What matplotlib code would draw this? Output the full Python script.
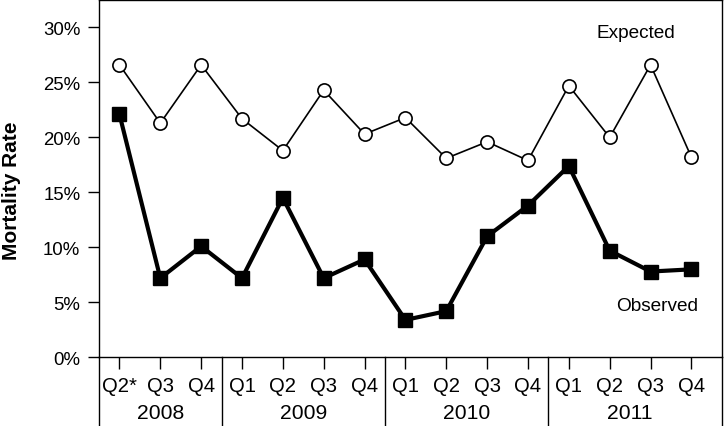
import matplotlib
matplotlib.use("Agg")
import matplotlib.pyplot as plt
from matplotlib.ticker import FuncFormatter
import matplotlib.transforms as mtransforms

plt.rcParams['font.family'] = ['Liberation Sans', 'DejaVu Sans']

quarters = ["Q2*", "Q3", "Q4", "Q1", "Q2", "Q3", "Q4", "Q1", "Q2", "Q3", "Q4", "Q1", "Q2", "Q3", "Q4"]
years = ["2008", "2009", "2010", "2011"]
year_counts = [3, 4, 4, 4]
expected = [26.6, 21.3, 26.6, 21.7, 18.8, 24.3, 20.3, 21.8, 18.1, 19.6, 17.9, 24.7, 20.0, 26.6, 18.2]
observed = [22.1, 7.2, 10.1, 7.2, 14.5, 7.2, 8.9, 3.4, 4.2, 11.0, 13.8, 17.4, 9.7, 7.8, 8.0]
y_ticks = [0, 5, 10, 15, 20, 25, 30]

fig = plt.figure(figsize=(7.25, 4.27), dpi=100)
ax = fig.add_axes([0.1366, 0.1609, 0.8593, 0.8368])

x = list(range(len(quarters)))
ax.plot(x, expected, color='black', lw=1.2, marker='o', markersize=9.5,
        markerfacecolor='white', markeredgecolor='black', markeredgewidth=1.2, zorder=3)
ax.plot(x, observed, color='black', lw=3, marker='s', markersize=10,
        markerfacecolor='black', markeredgecolor='black', zorder=4)

ax.set_xlim(-0.5, 14.75)
ax.set_ylim(0, 32.5)
ax.set_yticks(y_ticks)
ax.yaxis.set_major_formatter(FuncFormatter(lambda v, p: f"{int(v)}%"))
ax.tick_params(axis='y', direction='out', length=8, width=1, labelsize=13.4, pad=5.5)
ax.set_xticks(x)
ax.set_xticklabels(quarters)
ax.tick_params(axis='x', direction='out', length=8.5, width=1, labelsize=14.6, pad=5)
for s in ax.spines.values():
    s.set_linewidth(1)

ax.set_ylabel("Mortality Rate", fontsize=15, fontweight='bold')
ax.yaxis.set_label_coords(-0.125, 0.47)

# year separators and labels
trans = mtransforms.blended_transform_factory(ax.transData, ax.transAxes)
bounds = [-0.5]
pos = 0
for c in year_counts:
    pos += c
    bounds.append(pos - 0.5)
bounds[-1] = 14.75
for b in bounds:
    ax.plot([b, b], [0, -0.2], transform=trans, color='black', lw=1, clip_on=False)
start = 0
for yr, c in zip(years, year_counts):
    center = start + (c - 1) / 2
    ax.text(center, -0.155, yr, transform=trans, ha='center', va='center', fontsize=15.2)
    start += c

ax.text(12.65, 29.5, "Expected", ha='center', va='center', fontsize=13.7)
ax.text(13.15, 4.7, "Observed", ha='center', va='center', fontsize=13.7)

fig.savefig("out.png", dpi=100)
